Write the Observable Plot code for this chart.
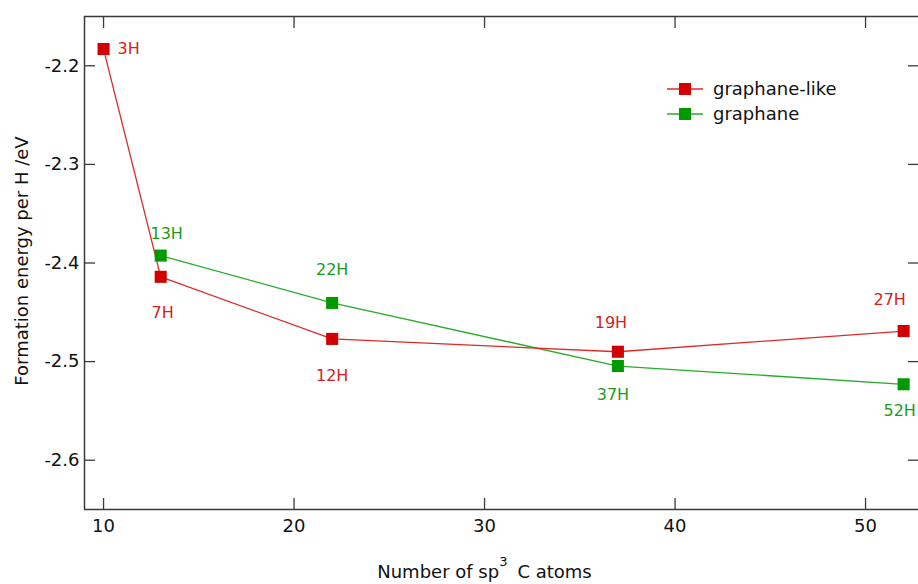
<!DOCTYPE html>
<html>
<head>
<meta charset="utf-8">
<script src="https://cdn.jsdelivr.net/npm/d3@7"></script>
<script src="https://cdn.jsdelivr.net/npm/@observablehq/plot@0.6"></script>
<style>
  html, body { margin: 0; padding: 0; background: #fff; }
  #wrap { position: relative; width: 918px; height: 584px; font-family: "DejaVu Sans", sans-serif; }
  #legend { position: absolute; left: 667px; top: 76px; font-size: 18px; color: #111; }
  #legend .row { display: flex; align-items: center; height: 25px; }
  #legend svg { display: block; margin-right: 10px; }
</style>
</head>
<body>
<div id="wrap"></div>
<script>
// ---- data ----
const graphaneLikeX = [10, 13, 22, 37, 52];
const graphaneLikeY = [-2.183, -2.414, -2.477, -2.490, -2.469];
const graphaneLikeLabels = ["3H", "7H", "12H", "19H", "27H"];

const graphaneX = [13, 22, 37, 52];
const graphaneY = [-2.3925, -2.4405, -2.5045, -2.523];
const graphaneLabels = ["13H", "22H", "37H", "52H"];

const seriesNames = ["graphane-like", "graphane"];
const xTicks = [10, 20, 30, 40, 50];
const yTicks = [-2.2, -2.3, -2.4, -2.5, -2.6];
const xDomain = [9, 52.78];
const yDomain = [-2.65, -2.15];
const xLabel = "Number of sp3 C atoms";
const yLabel = "Formation energy per H /eV";

// ---- layout / style (not data) ----
const RED = "#d20000", RED_LINE = "#dc2a2a", RED_TEXT = "#d42020";
const GREEN = "#009a00", GREEN_LINE = "#2aaa2a", GREEN_TEXT = "#1c9a1c";
const likeOffsets = [[14, 0, "start"], [2, 36, "middle"], [0, 37, "middle"], [-7, -29, "middle"], [-14, -31, "middle"]];
const graphaneOffsets = [[6, -22], [0, -33], [-5, 29], [-4, 27]];

const likeData = graphaneLikeX.map((x, i) => ({x, y: graphaneLikeY[i], label: graphaneLikeLabels[i]}));
const grData = graphaneX.map((x, i) => ({x, y: graphaneY[i], label: graphaneLabels[i]}));

const labelMarks = [];
likeData.forEach((d, i) => {
  const [dx, dy, anchor] = likeOffsets[i];
  labelMarks.push(Plot.text([d], {x: "x", y: "y", text: "label", dx, dy, textAnchor: anchor, fill: RED_TEXT, fontSize: 16}));
});
grData.forEach((d, i) => {
  const [dx, dy] = graphaneOffsets[i];
  labelMarks.push(Plot.text([d], {x: "x", y: "y", text: "label", dx, dy, fill: GREEN_TEXT, fontSize: 16}));
});

const AX = "#3a3a3a";
const chart = Plot.plot({
  width: 918,
  height: 584,
  marginLeft: 84,
  marginRight: 0,
  marginTop: 16,
  marginBottom: 75,
  style: {fontFamily: "DejaVu Sans, sans-serif", fontSize: "18px", color: "#111", background: "#fff"},
  x: {domain: xDomain},
  y: {domain: yDomain},
  marks: [
    // frame (left, top, bottom)
    Plot.ruleX([xDomain[0]], {stroke: AX, strokeWidth: 1.5}),
    Plot.ruleY(yDomain, {stroke: AX, strokeWidth: 1.5}),
    // inward ticks
    Plot.axisX(xTicks, {anchor: "bottom", tickSize: 11, inset: 11, fill: "none", label: null, stroke: AX, strokeWidth: 1.3}),
    Plot.axisX(xTicks, {anchor: "top", tickSize: 11, inset: 11, fill: "none", label: null, stroke: AX, strokeWidth: 1.3}),
    Plot.axisY(yTicks, {anchor: "left", tickSize: 11, inset: 11, fill: "none", label: null, stroke: AX, strokeWidth: 1.3}),
    Plot.axisY(yTicks, {anchor: "right", tickSize: 11, inset: 11, fill: "none", label: null, stroke: AX, strokeWidth: 1.3}),
    // tick labels
    Plot.axisX(xTicks, {anchor: "bottom", tickSize: 0, tickPadding: 10, label: null, tickFormat: d => String(d), fontSize: 18, fill: "#111"}),
    Plot.axisY(yTicks, {anchor: "left", tickSize: 0, tickPadding: 5, label: null, tickFormat: d => d.toFixed(1), fontSize: 18, fill: "#111"}),
    // series
    Plot.line(grData, {x: "x", y: "y", stroke: GREEN_LINE, strokeWidth: 1.3}),
    Plot.line(likeData, {x: "x", y: "y", stroke: RED_LINE, strokeWidth: 1.3}),
    Plot.dot(grData, {x: "x", y: "y", symbol: "square", r: 6.8, fill: GREEN, stroke: "none"}),
    Plot.dot(likeData, {x: "x", y: "y", symbol: "square", r: 6.8, fill: RED, stroke: "none"}),
    ...labelMarks,
    // axis titles
    Plot.text([yLabel], {text: d => d, frameAnchor: "left", textAnchor: "middle", lineAnchor: "middle", rotate: -90, dx: -62, dy: -2, fontSize: 18, fill: "#111"}),
    Plot.text([xLabel], {text: d => d, frameAnchor: "bottom", textAnchor: "middle", lineAnchor: "middle", dx: -17, dy: 63, fontSize: 18, fill: "#111"})
  ]
});

document.getElementById("wrap").appendChild(chart);

// superscript the "3" in sp3
chart.querySelectorAll("text").forEach(t => {
  if (t.textContent === xLabel) {
    const ns = "http://www.w3.org/2000/svg";
    t.textContent = "";
    t.appendChild(document.createTextNode("Number of sp"));
    const sup = document.createElementNS(ns, "tspan");
    sup.setAttribute("dy", "-12");
    sup.setAttribute("font-size", "13");
    sup.textContent = "3";
    t.appendChild(sup);
    const rest = document.createElementNS(ns, "tspan");
    rest.setAttribute("dy", "12");
    rest.setAttribute("dx", "10");
    rest.textContent = "C atoms";
    t.appendChild(rest);
  }
});

// legend
const legend = document.createElement("div");
legend.id = "legend";
const colors = [[RED_LINE, RED], [GREEN_LINE, GREEN]];
seriesNames.forEach((name, i) => {
  const row = document.createElement("div");
  row.className = "row";
  row.innerHTML = `<svg width="36" height="14"><line x1="0" y1="7" x2="36" y2="7" stroke="${colors[i][0]}" stroke-width="1.3"/><rect x="12" y="1" width="12" height="12" fill="${colors[i][1]}"/></svg><span>${name}</span>`;
  legend.appendChild(row);
});
document.getElementById("wrap").appendChild(legend);
</script>
</body>
</html>
